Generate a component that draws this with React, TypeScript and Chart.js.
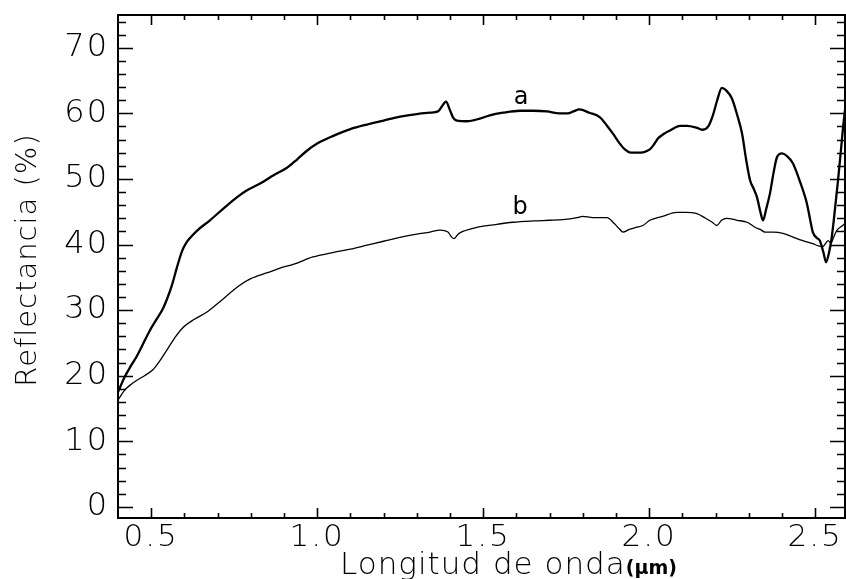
import React, { useEffect, useRef } from "react";
import { Chart, registerables } from "chart.js";

Chart.register(...registerables);

const wlA = [
  0.400, 0.420, 0.440, 0.457, 0.475, 0.496, 0.515, 0.536, 0.550, 0.563, 0.578, 0.593, 0.605, 0.617, 0.640, 0.677,
  0.720, 0.758, 0.790, 0.828, 0.870, 0.909, 0.940, 0.969, 1.000, 1.050, 1.100, 1.150, 1.200, 1.250, 1.300, 1.340,
  1.364, 1.375, 1.388, 1.400, 1.410, 1.421, 1.451, 1.490, 1.520, 1.560, 1.611, 1.650, 1.692, 1.730, 1.755, 1.772,
  1.790, 1.820, 1.852, 1.872, 1.891, 1.910, 1.927, 1.945, 1.963, 1.985, 2.002, 2.015, 2.027, 2.045, 2.063, 2.093,
  2.114, 2.144, 2.162, 2.178, 2.192, 2.205, 2.219, 2.232, 2.249, 2.265, 2.280, 2.292, 2.304, 2.315, 2.325, 2.335,
  2.343, 2.353, 2.364, 2.375, 2.385, 2.400, 2.415, 2.433, 2.455, 2.475, 2.485, 2.493, 2.505, 2.514, 2.525, 2.533,
  2.542, 2.550, 2.560, 2.569, 2.578, 2.584, 2.590,
];
const reflA = [
  17.5, 19.8, 21.6, 23.0, 24.8, 26.9, 28.5, 30.3, 32.0, 33.9, 36.6, 39.0, 40.2, 41.0, 42.2, 43.7,
  45.6, 47.2, 48.3, 49.3, 50.6, 51.7, 53.0, 54.3, 55.4, 56.6, 57.6, 58.3, 58.9, 59.5, 59.9, 60.1,
  60.3, 61.0, 61.8, 60.5, 59.3, 58.9, 58.8, 59.2, 59.7, 60.1, 60.4, 60.4, 60.3, 60.0, 60.0, 60.3,
  60.6, 60.1, 59.4, 58.2, 56.9, 55.5, 54.5, 54.0, 54.0, 54.1, 54.5, 55.3, 56.2, 56.9, 57.4, 58.1,
  58.1, 57.8, 57.5, 58.0, 59.7, 62.0, 63.9, 63.5, 62.3, 59.8, 56.9, 53.0, 49.8, 48.5, 47.2, 45.0,
  43.7, 45.5, 47.8, 51.0, 53.3, 53.9, 53.5, 52.4, 49.5, 46.3, 43.8, 41.9, 41.0, 40.6, 38.8, 37.3,
  38.8, 41.1, 45.5, 49.8, 54.5, 57.8, 60.5,
];

const wlB = [
  0.400, 0.420, 0.440, 0.457, 0.480, 0.505, 0.525, 0.547, 0.570, 0.593, 0.630, 0.668, 0.700, 0.735, 0.767, 0.800,
  0.850, 0.888, 0.930, 0.987, 1.050, 1.100, 1.150, 1.200, 1.249, 1.300, 1.340, 1.370, 1.394, 1.404, 1.412, 1.425,
  1.439, 1.480, 1.530, 1.590, 1.650, 1.700, 1.740, 1.783, 1.800, 1.830, 1.873, 1.895, 1.910, 1.921, 1.940, 1.960,
  1.981, 2.002, 2.040, 2.084, 2.110, 2.144, 2.170, 2.190, 2.204, 2.218, 2.234, 2.265, 2.295, 2.320, 2.335, 2.349,
  2.375, 2.403, 2.430, 2.463, 2.495, 2.510, 2.523, 2.532, 2.539, 2.548, 2.554, 2.566, 2.580, 2.590,
];
const reflB = [
  16.3, 17.8, 18.7, 19.3, 20.0, 20.9, 22.2, 23.9, 25.7, 27.2, 28.6, 29.7, 31.0, 32.5, 33.8, 34.8,
  35.7, 36.4, 37.0, 38.1, 38.8, 39.3, 39.9, 40.5, 41.1, 41.6, 41.9, 42.2, 41.9, 41.2, 40.9, 41.6,
  42.0, 42.6, 43.0, 43.4, 43.6, 43.7, 43.8, 44.1, 44.3, 44.1, 44.1, 43.2, 42.4, 41.9, 42.3, 42.6,
  42.9, 43.7, 44.3, 44.9, 44.9, 44.7, 44.0, 43.4, 42.9, 43.7, 44.0, 43.7, 43.4, 42.6, 42.3, 41.9,
  41.9, 41.7, 41.2, 40.6, 40.1, 39.8, 39.7, 40.2, 40.6, 40.2, 40.9, 42.2, 42.8, 43.2,
];

const xTicks = [0.5, 1.0, 1.5, 2.0, 2.5];
const yTicks = [0, 10, 20, 30, 40, 50, 60, 70];
const curveLabels = [
  { text: "a", x: 1.614, y: 62.4 },
  { text: "b", x: 1.611, y: 45.6 },
];

const FONT = "'DejaVu Sans', sans-serif";

const decorPlugin = {
  id: "decor",
  beforeDraw(chart: any) {
    chart.ctx.letterSpacing = "2px";
  },
  afterDraw(chart: any) {
    const { ctx, chartArea, scales } = chart;
    const xs = scales.x;
    const ys = scales.y;
    const { left, right, top, bottom } = chartArea;
    ctx.save();
    ctx.letterSpacing = "0px";
    ctx.strokeStyle = "#000";
    ctx.lineWidth = 2;
    ctx.strokeRect(left, top, right - left, bottom - top);
    ctx.lineWidth = 1.6;
    ctx.beginPath();
    for (let v = 0; v <= 74; v += 2) {
      const p = Math.round(ys.getPixelForValue(v)) + 0.5;
      const major = v % 10 === 0;
      const len = major ? 15 : 8;
      ctx.moveTo(left, p);
      ctx.lineTo(left + len, p);
      ctx.moveTo(right, p);
      ctx.lineTo(right - len, p);
    }
    for (let i = 5; i <= 25; i++) {
      const v = i / 10;
      const p = Math.round(xs.getPixelForValue(v)) + 0.5;
      const major = i % 5 === 0;
      const len = major ? 10 : 5;
      ctx.moveTo(p, bottom);
      ctx.lineTo(p, bottom - len);
      ctx.moveTo(p, top);
      ctx.lineTo(p, top + len);
    }
    ctx.stroke();

    ctx.fillStyle = "#000";
    ctx.letterSpacing = "0px";
    ctx.font = `24px ${FONT}`;
    ctx.textAlign = "center";
    ctx.textBaseline = "middle";
    for (const l of curveLabels) {
      ctx.fillText(l.text, xs.getPixelForValue(l.x), ys.getPixelForValue(l.y));
    }

    ctx.letterSpacing = "1px";
    ctx.save();
    ctx.translate(28, 260);
    ctx.rotate(-Math.PI / 2);
    ctx.font = `300 29px ${FONT}`;
    ctx.textAlign = "center";
    ctx.textBaseline = "middle";
    ctx.fillText("Reflectancia (%)", 0, 0);
    ctx.restore();

    ctx.textAlign = "left";
    ctx.textBaseline = "alphabetic";
    ctx.font = `300 31px ${FONT}`;
    const main = "Longitud de onda";
    ctx.fillText(main, 340, 574);
    const w = ctx.measureText(main).width;
    ctx.letterSpacing = "0px";
    ctx.font = `bold 19px ${FONT}`;
    ctx.fillText("(\u03bcm)", 340 + w, 574);
    ctx.restore();
  },
};

export default function App() {
  const ref = useRef<HTMLCanvasElement | null>(null);
  useEffect(() => {
    if (!ref.current) return;
    const chart = new Chart(ref.current, {
      type: "line",
      data: {
        datasets: [
          {
            label: "a",
            data: wlA.map((x, i) => ({ x, y: reflA[i] })),
            borderColor: "#000",
            borderWidth: 2.3,
            pointRadius: 0,
            cubicInterpolationMode: "monotone",
            fill: false,
          },
          {
            label: "b",
            data: wlB.map((x, i) => ({ x, y: reflB[i] })),
            borderColor: "#000",
            borderWidth: 1.3,
            pointRadius: 0,
            cubicInterpolationMode: "monotone",
            fill: false,
          },
        ],
      },
      options: {
        animation: false,
        responsive: false,
        maintainAspectRatio: false,
        layout: { padding: { left: 0, top: 15, right: 1, bottom: 0 } },
        plugins: { legend: { display: false }, tooltip: { enabled: false } },
        scales: {
          x: {
            type: "linear",
            min: 0.4,
            max: 2.59,
            grid: { display: false, drawTicks: false },
            border: { display: false },
            afterBuildTicks: (s: any) => {
              s.ticks = xTicks.map((v) => ({ value: v }));
            },
            afterFit: (s: any) => {
              s.height = 61;
              s.paddingLeft = 0;
              s.paddingRight = 0;
              s.paddingTop = 0;
              s.paddingBottom = 0;
            },
            ticks: {
              autoSkip: false,
              maxRotation: 0,
              padding: 1,
              color: "#000",
              font: { family: FONT, size: 31, weight: "300" },
              callback: (v: any) => Number(v).toFixed(1),
            },
          },
          y: {
            type: "linear",
            min: -1.7,
            max: 75,
            grid: { display: false, drawTicks: false },
            border: { display: false },
            afterBuildTicks: (s: any) => {
              s.ticks = yTicks.map((v) => ({ value: v }));
            },
            afterFit: (s: any) => {
              s.width = 118;
              s.paddingLeft = 0;
              s.paddingRight = 0;
              s.paddingTop = 0;
              s.paddingBottom = 0;
            },
            ticks: {
              autoSkip: false,
              padding: 9,
              color: "#000",
              font: { family: FONT, size: 32, weight: "300" },
              callback: (v: any) => String(v),
            },
          },
        },
      },
      plugins: [decorPlugin],
    });
    return () => chart.destroy();
  }, []);
  return (
    <div style={{ position: "absolute", left: 0, top: 0, width: 846, height: 579, background: "#fff" }}>
      <canvas ref={ref} width={846} height={579} style={{ display: "block" }} />
    </div>
  );
}
